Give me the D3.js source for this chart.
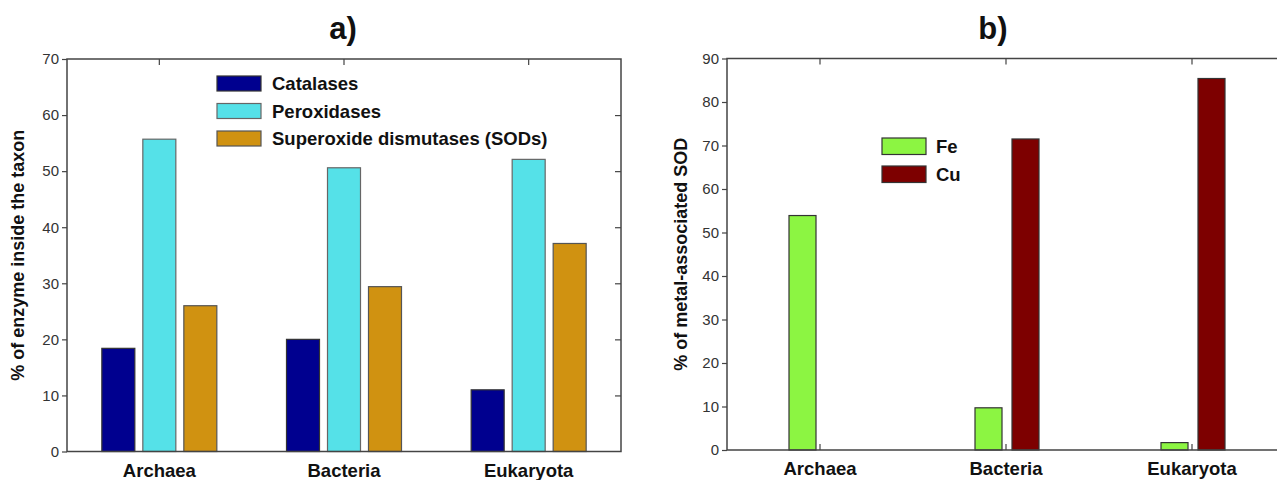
<!DOCTYPE html>
<html lang="en">
  <head>
    <meta charset="UTF-8" />
    <title>Enzyme distribution by taxon</title>
    <script src="https://d3js.org/d3.v7.min.js"></script>
    <style>
      body { margin: 0; background: #fff; }
      text { font-family: "Liberation Sans", Arial, sans-serif; }
      .tick-label { font-size: 15px; fill: #333; }
      .cat-label { font-size: 18.5px; font-weight: bold; fill: #111; }
      .axis-title { font-size: 18px; font-weight: bold; fill: #111; }
      .legend-text { font-size: 18.5px; font-weight: bold; fill: #111; }
      .panel-title { font-size: 31px; font-weight: bold; fill: #111; }
    </style>
  </head>
  <body>
    <svg id="chart" width="1277" height="480"></svg>
    <script>
      // data
      const taxa = ["Archaea", "Bacteria", "Eukaryota"];

      const enzymes = ["Catalases", "Peroxidases", "Superoxide dismutases (SODs)"];
      const catalases = [18.4, 20.0, 11.0];
      const peroxidases = [55.7, 50.6, 52.1];
      const sods = [26.0, 29.4, 37.1];
      const enzymeTicks = [0, 10, 20, 30, 40, 50, 60, 70];

      const metals = ["Fe", "Cu"];
      const fe = [53.9, 9.7, 1.7];
      const cu = [0, 71.5, 85.4];
      const metalTicks = [0, 10, 20, 30, 40, 50, 60, 70, 80, 90];

      const enzymeColors = ["#00008f", "#55e1e8", "#d09211"];
      const enzymeStroke = ["#333", "#666", "#555"];
      const metalColors = ["#8cf542", "#7d0000"];

      const svg = d3.select("#chart");
      const frame = "#444";

      // ---------- panel a ----------
      const a = { left: 67, right: 621, top: 59, bottom: 451.5 };
      const xa = d3.scaleBand().domain(taxa).range([a.left, a.right]);
      const ya = d3.scaleLinear().domain([0, 70]).range([a.bottom, a.top]);
      const xa1 = d3.scaleBand().domain(enzymes).range([-57.5, 57.5]).paddingInner(0.195);
      const enzymeValues = [catalases, peroxidases, sods];

      const ga = svg.append("g");

      enzymes.forEach((e, j) => {
        ga.selectAll(null)
          .data(taxa)
          .join("rect")
          .attr("x", (d) => xa(d) + xa.bandwidth() / 2 + xa1(e))
          .attr("y", (d, i) => ya(enzymeValues[j][i]))
          .attr("width", xa1.bandwidth())
          .attr("height", (d, i) => ya(0) - ya(enzymeValues[j][i]))
          .attr("fill", enzymeColors[j])
          .attr("stroke", enzymeStroke[j])
          .attr("stroke-width", 1.2);
      });

      ga.append("rect")
        .attr("x", a.left).attr("y", a.top)
        .attr("width", a.right - a.left).attr("height", a.bottom - a.top)
        .attr("fill", "none").attr("stroke", frame).attr("stroke-width", 1.5);

      // left axis (outward ticks)
      const yAxisA = ga.append("g")
        .attr("transform", `translate(${a.left},0)`)
        .call(d3.axisLeft(ya).tickValues(enzymeTicks).tickSize(5).tickPadding(3));
      yAxisA.select(".domain").remove();
      yAxisA.selectAll("line").attr("stroke", frame).attr("stroke-width", 1.2);
      yAxisA.selectAll("text").attr("class", "tick-label").attr("font-size", null).attr("font-family", null);

      // right axis (inward ticks)
      const yAxisA2 = ga.append("g")
        .attr("transform", `translate(${a.right},0)`)
        .call(d3.axisLeft(ya).tickValues(enzymeTicks.slice(1, -1)).tickSize(6).tickFormat(""));
      yAxisA2.select(".domain").remove();
      yAxisA2.selectAll("line").attr("stroke", frame).attr("stroke-width", 1.2);

      // top ticks at group centres
      const topA = ga.append("g")
        .attr("transform", `translate(0,${a.top})`)
        .call(d3.axisBottom(xa).tickSize(6).tickFormat(""));
      topA.select(".domain").remove();
      topA.selectAll("line").attr("stroke", frame).attr("stroke-width", 1.2);

      // category labels
      const botA = ga.append("g")
        .attr("transform", `translate(0,${a.bottom})`)
        .call(d3.axisBottom(xa).tickSize(0).tickPadding(12));
      botA.select(".domain").remove();
      botA.selectAll("text").attr("class", "cat-label").attr("font-size", null).attr("font-family", null);

      ga.append("text")
        .attr("class", "axis-title")
        .attr("transform", `translate(24,${(a.top + a.bottom) / 2}) rotate(-90)`)
        .attr("text-anchor", "middle")
        .text("% of enzyme inside the taxon");

      ga.append("text")
        .attr("class", "panel-title")
        .attr("x", 343).attr("y", 39)
        .attr("text-anchor", "middle")
        .text("a)");

      const legA = ga.append("g").attr("transform", "translate(217,76)");
      enzymes.forEach((e, j) => {
        legA.append("rect")
          .attr("x", 0).attr("y", j * 27.5)
          .attr("width", 44).attr("height", 15)
          .attr("fill", enzymeColors[j])
          .attr("stroke", enzymeStroke[j]).attr("stroke-width", 1.2);
        legA.append("text")
          .attr("class", "legend-text")
          .attr("x", 55).attr("y", j * 27.5 + 14)
          .text(e);
      });

      // ---------- panel b ----------
      const b = { left: 727, right: 1285, top: 58.5, bottom: 450 };
      const xb = d3.scaleBand().domain(taxa).range([b.left, b.right]);
      const yb = d3.scaleLinear().domain([0, 90]).range([b.bottom, b.top]);
      const xb1 = d3.scaleBand().domain(metals).range([-31, 33]).paddingInner(0.27);
      const metalValues = [fe, cu];

      const gb = svg.append("g");

      metals.forEach((m, j) => {
        gb.selectAll(null)
          .data(taxa)
          .join("rect")
          .attr("x", (d) => xb(d) + xb.bandwidth() / 2 + xb1(m))
          .attr("y", (d, i) => yb(metalValues[j][i]))
          .attr("width", xb1.bandwidth())
          .attr("height", (d, i) => yb(0) - yb(metalValues[j][i]))
          .attr("fill", metalColors[j])
          .attr("stroke", "#333")
          .attr("stroke-width", 1.2)
          .attr("display", (d, i) => (metalValues[j][i] === 0 ? "none" : null));
      });

      gb.append("path")
        .attr("d", `M${b.left},${b.bottom}V${b.top}H1277M${b.left},${b.bottom}H1277`)
        .attr("fill", "none").attr("stroke", frame).attr("stroke-width", 1.5);

      const yAxisB = gb.append("g")
        .attr("transform", `translate(${b.left},0)`)
        .call(d3.axisLeft(yb).tickValues(metalTicks).tickSize(5).tickPadding(3));
      yAxisB.select(".domain").remove();
      yAxisB.selectAll("line").attr("stroke", frame).attr("stroke-width", 1.2);
      yAxisB.selectAll("text").attr("class", "tick-label").attr("font-size", null).attr("font-family", null);

      const topB = gb.append("g")
        .attr("transform", `translate(0,${b.top})`)
        .call(d3.axisBottom(xb).tickSize(6).tickFormat(""));
      topB.select(".domain").remove();
      topB.selectAll("line").attr("stroke", frame).attr("stroke-width", 1.2);

      const botTicksB = gb.append("g")
        .attr("transform", `translate(0,${b.bottom})`)
        .call(d3.axisTop(xb).tickSize(6).tickFormat(""));
      botTicksB.select(".domain").remove();
      botTicksB.selectAll("line").attr("stroke", frame).attr("stroke-width", 1.2);

      const botB = gb.append("g")
        .attr("transform", `translate(0,${b.bottom})`)
        .call(d3.axisBottom(xb).tickSize(0).tickPadding(12));
      botB.select(".domain").remove();
      botB.selectAll("text").attr("class", "cat-label").attr("font-size", null).attr("font-family", null);

      gb.append("text")
        .attr("class", "axis-title")
        .attr("transform", `translate(687,${(b.top + b.bottom) / 2}) rotate(-90)`)
        .attr("text-anchor", "middle")
        .text("% of metal-associated SOD");

      gb.append("text")
        .attr("class", "panel-title")
        .attr("x", 993).attr("y", 39)
        .attr("text-anchor", "middle")
        .text("b)");

      const legB = gb.append("g").attr("transform", "translate(882,138)");
      metals.forEach((m, j) => {
        legB.append("rect")
          .attr("x", 0).attr("y", j * 28)
          .attr("width", 44).attr("height", 16.5)
          .attr("fill", metalColors[j])
          .attr("stroke", "#333").attr("stroke-width", 1.2);
        legB.append("text")
          .attr("class", "legend-text")
          .attr("x", 54).attr("y", j * 28 + 15)
          .text(m);
      });
    </script>
  </body>
</html>
